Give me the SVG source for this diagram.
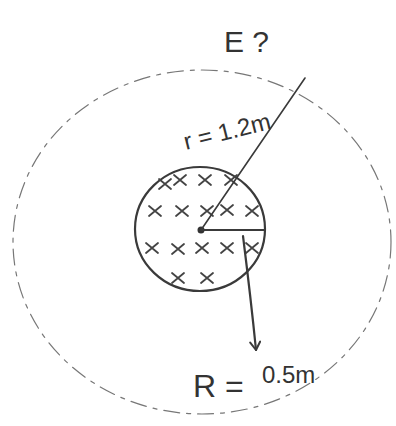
<svg xmlns="http://www.w3.org/2000/svg" width="396" height="426" viewBox="0 0 396 426">
<style>
.ink{fill:none;stroke:#3a3a3a;stroke-width:2.2;stroke-linecap:round;stroke-linejoin:round}
.thin{fill:none;stroke:#3a3a3a;stroke-width:1.6;stroke-linecap:round}
.faint{fill:none;stroke:#777;stroke-width:1.2;stroke-dasharray:16 7 4 7;stroke-linecap:round}
.x{fill:none;stroke:#444;stroke-width:1.8;stroke-linecap:round}
.lbl{font-family:"Liberation Sans",Arial,sans-serif;fill:#333}
</style>
<defs>
<marker id="ah" viewBox="0 0 12 12" refX="10" refY="6" markerWidth="12" markerHeight="12" markerUnits="userSpaceOnUse" orient="auto">
<path d="M2,1 L10,6 L2,11" fill="none" stroke="#3a3a3a" stroke-width="2" stroke-linecap="round" stroke-linejoin="round"/>
</marker>
<g id="xm"><path class="x" d="M-6,-5 L6,5 M-6,5 L6,-5"/></g>
</defs>
<rect width="396" height="426" fill="#ffffff"/>
<g id="outer-circle">
<ellipse class="faint" cx="202" cy="242" rx="189" ry="172"/>
</g>
<g id="sphere">
<ellipse class="ink" cx="200" cy="229" rx="65" ry="62"/>
<circle cx="201" cy="230" r="3.5" fill="#333"/>
<use href="#xm" x="180" y="180"/><use href="#xm" x="205" y="180"/><use href="#xm" x="231" y="180"/><use href="#xm" x="165" y="184"/>
<use href="#xm" x="155" y="211"/><use href="#xm" x="182" y="211"/><use href="#xm" x="207" y="211"/><use href="#xm" x="227" y="210"/><use href="#xm" x="252" y="211"/>
<use href="#xm" x="152" y="248"/><use href="#xm" x="178" y="249"/><use href="#xm" x="202" y="248"/><use href="#xm" x="227" y="248"/><use href="#xm" x="252" y="248"/>
<use href="#xm" x="178" y="278"/><use href="#xm" x="207" y="278"/>
</g>
<g id="connectors">
<path class="thin" d="M201,230 L305,78"/>
<path class="ink" d="M201,230 L265,230"/>
<path class="ink" d="M243,236 Q251,300 256,350" marker-end="url(#ah)"/>
</g>
<g id="labels">
<text class="lbl" x="224" y="52" font-size="30">E ?</text>
<text class="lbl" x="186" y="150" font-size="24" transform="rotate(-14 186 150)">r = 1.2m</text>
<text class="lbl" x="193" y="397" font-size="32">R =</text>
<text class="lbl" x="262" y="383" font-size="24">0.5m</text>
</g>
</svg>
